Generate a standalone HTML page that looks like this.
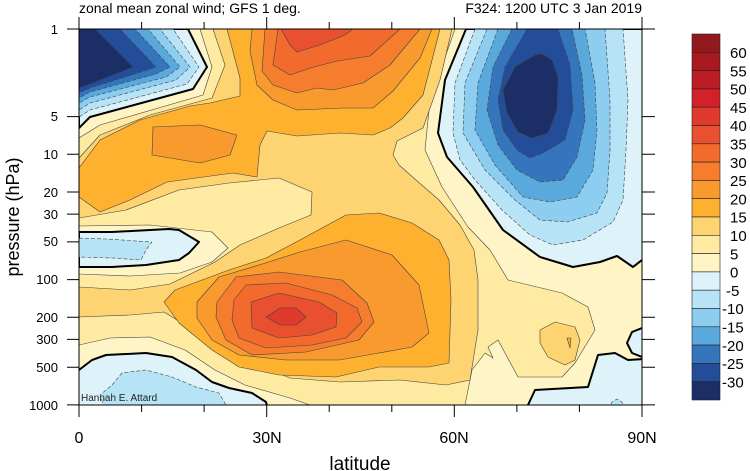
<!DOCTYPE html>
<html><head><meta charset="utf-8"><style>
html,body{margin:0;padding:0;background:#fff;}
svg{display:block;font-family:"Liberation Sans",sans-serif;}
</style></head><body>
<svg width="750" height="471" viewBox="0 0 750 471" xmlns="http://www.w3.org/2000/svg">
<defs><clipPath id="c"><rect x="79" y="29" width="563" height="376"/></clipPath></defs>
<g clip-path="url(#c)" stroke-linejoin="round">
<rect x="79" y="29" width="563" height="376" fill="#fef4c5"/>
<g stroke="#444" stroke-width="0.6">
<!-- 5+ -->
<path fill="#feeaa0" d="M200,29 L212,67 L203,95 L100,125 L79,138 L79,345 L110,338 L150,337 L185,350 L215,370 L245,385 L290,398 L310,405 L465,405 L472,370 L485,353 L493,358 L488,347 L498,340 L518,377 L562,377 L575,363 L595,330 L588,307 L562,293 L508,280 L490,250 L468,227 L442,187 L425,150 L430,100 L455,29 Z"/>
<!-- 10+ -->
<path fill="#fed472" d="M213,29 L225,65 L212,98 L150,115 L100,135 L79,158 L79,317 L130,315 L164,312 L190,328 L215,345 L250,362 L290,378 L340,382 L400,380 L446,385 L470,380 L478,330 L478,280 L474,250 L460,225 L439,200 L416,180 L399,165 L393,155 L397,141 L423,128 L440,80 L452,29 Z"/>
<!-- pale tongue -->
<path fill="#feeaa0" d="M79,218 L126,210 L179,190 L229,183 L279,178 L312,192 L311,215 L279,228 L240,245 L215,262 L170,284 L130,290 L79,287 Z"/>
<path fill="#fef4c5" d="M79,226 L150,225 L212,232 L228,248 L212,262 L180,273 L130,276 L79,274 Z"/>
<!-- upper 15 -->
<path fill="#fdb12f" d="M227,29 L240,78 L240,96 L210,103 L190,106 L140,120 L100,140 L79,168 L79,197 L100,212 L130,200 L167,182 L233,173 L257,177 L260,145 L267,131 L297,136 L340,133 L373,135 L390,128 L403,118 L423,95 L440,29 Z"/>
<path fill="#f99a2f" d="M153,127 L200,125 L237,135 L230,155 L200,163 L152,155 Z"/>
<path fill="#f99a2f" d="M252,29 L250,51 L257,85 L273,100 L297,110 L343,108 L373,108 L393,91 L420,58 L432,29 Z"/>
<path fill="#f67d2d" d="M265,29 L262,71 L273,85 L297,93 L317,88 L333,90 L363,83 L390,65 L420,29 Z"/>
<path fill="#f26a2c" d="M278,29 L273,65 L290,75 L310,68 L337,61 L370,56 L400,29 Z"/>
<path fill="#e8502f" d="M281,29 L290,45 L297,52 L320,45 L345,35 L353,29 Z"/>
<!-- lower jet -->
<path fill="#fdb12f" d="M164,302 L175,290 L229,270 L266,258 L300,240 L346,215 L379,213 L412,223 L439,240 L449,260 L451,300 L449,363 L429,367 L379,367 L336,377 L279,375 L239,367 L212,350 L179,323 Z"/>
<path fill="#f99a2f" d="M197,302 L219,277 L259,265 L300,252 L346,240 L392,255 L419,285 L429,333 L412,347 L379,353 L339,360 L286,360 L239,355 L212,340 L197,318 Z"/>
<path fill="#f67d2d" d="M217,302 L236,277 L279,272 L342,280 L367,303 L374,322 L359,340 L306,352 L252,355 L226,340 L216,317 Z"/>
<path fill="#f26a2c" d="M234,300 L246,285 L286,283 L332,295 L357,308 L362,322 L346,338 L312,345 L266,348 L239,338 L232,320 Z"/>
<path fill="#e8502f" d="M251,302 L279,293 L319,302 L337,313 L336,327 L312,335 L279,338 L252,328 Z"/>
<path fill="#e03a2e" d="M266,317 L280,308 L296,308 L306,317 L296,325 L280,325 Z"/>
<!-- bump -->
<path fill="#fed472" d="M540,330 L555,322 L575,327 L580,340 L575,360 L565,365 L548,357 L540,343 Z"/>
<path fill="#fdb12f" d="M567,338 L571,338 L570,348 Z"/>
</g>
<!-- negatives -->
<g stroke="#444" stroke-width="0.6" stroke-dasharray="4,2">
<path fill="#def2f9" stroke="#000" stroke-width="2" stroke-dasharray="none" d="M79,29 L188,29 L207,67 L193,89 L90,117 L79,128 Z"/>
<path fill="#b6e3f5" d="M79,29 L173,29 L199,67 L187,84 L90,110 L79,117 Z"/>
<path fill="#8dcdef" d="M79,29 L160,29 L190,67 L176,80 L90,103 L79,110 Z"/>
<path fill="#5aa9dc" d="M79,29 L148,29 L180,67 L166,77 L90,97 L79,103 Z"/>
<path fill="#3575bb" d="M79,29 L135,29 L170,67 L156,74 L90,92 L79,98 Z"/>
<path fill="#234d99" d="M79,29 L120,29 L156,67 L144,71 L90,88 L79,93 Z"/>
<path fill="#1b2e66" d="M79,29 L95,29 L133,67 L90,84 L79,88 Z"/>

<path fill="#def2f9" stroke="#000" stroke-width="2" stroke-dasharray="none" d="M466,29 L660,29 L660,255 L642,260 L633,267 L617,256 L600,262 L573,267 L540,257 L503,230 L473,187 L447,157 L438,133 L445,80 Z"/>
<path fill="#b6e3f5" d="M475,29 L455,83 L453,133 L460,160 L475,180 L502,210 L530,235 L553,245 L583,240 L613,222 L623,200 L626,150 L628,100 L623,29 Z"/>
<path fill="#8dcdef" d="M487,29 L465,83 L463,133 L485,170 L515,200 L540,220 L567,222 L597,213 L607,193 L610,150 L610,100 L605,29 Z"/>
<path fill="#5aa9dc" d="M498,29 L478,83 L475,130 L495,165 L523,197 L550,202 L577,197 L593,170 L597,130 L595,83 L585,29 Z"/>
<path fill="#3575bb" d="M512,29 L493,67 L487,110 L498,145 L517,170 L540,182 L563,180 L577,157 L585,120 L582,75 L572,29 Z"/>
<path fill="#234d99" d="M527,29 L505,67 L498,100 L503,130 L517,150 L530,158 L543,153 L565,140 L573,110 L570,65 L558,29 Z"/>
<path fill="#1b2e66" stroke-dasharray="none" d="M535,55 L515,67 L503,90 L507,113 L518,132 L532,138 L548,133 L557,110 L558,77 L552,60 L542,54 Z"/>

<path fill="#def2f9" stroke="#000" stroke-width="2" stroke-dasharray="none" d="M79,232 L112,232 L169,229 L179,230 L199,242 L189,253 L179,260 L146,265 L112,267 L79,267 Z"/>
<path fill="#b6e3f5" d="M79,238 L106,239 L152,242 L146,250 L141,260 L112,258 L79,257 Z"/>

<path fill="#def2f9" stroke="#000" stroke-width="2" stroke-dasharray="none" d="M70,410 L70,370 L79,370 L92,360 L106,355 L146,353 L172,357 L196,370 L212,382 L229,388 L252,393 L266,402 L268,410 Z"/>
<path fill="#b6e3f5" d="M112,385 L122,373 L146,370 L172,377 L196,387 L219,393 L226,405 L226,410 L105,410 L100,395 Z"/>

<path fill="#def2f9" stroke="#000" stroke-width="2" stroke-dasharray="none" d="M528,410 L528,405 L535,390 L588,387 L598,355 L615,353 L628,360 L660,358 L660,410 Z"/>
<path fill="#def2f9" stroke="#000" stroke-width="2" stroke-dasharray="none" d="M660,328 L642,328 L632,332 L627,343 L632,353 L642,357 L660,357 Z"/>
<path fill="#b6e3f5" d="M609,410 L612,402 L617,399 L622,402 L625,410 Z"/>
</g>
<text x="81" y="401" font-size="10" fill="#222">Hannah E. Attard</text>
</g>
<!-- frame -->
<rect x="79" y="29" width="563" height="376" fill="none" stroke="#000" stroke-width="1"/>
<g stroke="#000" stroke-width="1">
<path d="M79,405V417M266.7,405V417M454.3,405V417M642,405V417M79,29V17M266.7,29V17M454.3,29V17M642,29V17"/>
<path d="M141.6,405V412M204.1,405V412M329.2,405V412M391.8,405V412M516.9,405V412M579.4,405V412M141.6,29V22M204.1,29V22M329.2,29V22M391.8,29V22M516.9,29V22M579.4,29V22"/>
<path d="M67,29H79M67,116.6H79M67,154.3H79M67,192H79M67,214.1H79M67,241.9H79M67,279.6H79M67,317.3H79M67,339.4H79M67,367.2H79M67,404.9H79"/>
<path d="M642,29H655M642,116.6H655M642,154.3H655M642,192H655M642,214.1H655M642,241.9H655M642,279.6H655M642,317.3H655M642,339.4H655M642,367.2H655M642,404.9H655"/>
</g>
<g font-size="13" text-anchor="end" fill="#000">
<text x="58" y="34">1</text><text x="58" y="121">5</text><text x="58" y="159">10</text><text x="58" y="197">20</text><text x="58" y="219">30</text><text x="58" y="246">50</text><text x="58" y="284">100</text><text x="58" y="322">200</text><text x="58" y="344">300</text><text x="58" y="372">500</text><text x="58" y="410">1000</text>
</g>
<g font-size="16" text-anchor="middle" fill="#000">
<text x="79" y="443">0</text><text x="267" y="443">30N</text><text x="454" y="443">60N</text><text x="642" y="443">90N</text>
</g>
<text x="360" y="470" font-size="19" text-anchor="middle">latitude</text>
<text transform="translate(19,217) rotate(-90)" font-size="18" text-anchor="middle">pressure (hPa)</text>
<text x="79" y="13" font-size="14">zonal mean zonal wind; GFS 1 deg.</text>
<text x="642" y="13" font-size="14" text-anchor="end">F324: 1200 UTC 3 Jan 2019</text>
<!-- colorbar -->
<g stroke="#222" stroke-width="0.6">
<rect x="692" y="34" width="28" height="18.3" fill="#911a1d"/>
<rect x="692" y="52.3" width="28" height="18.3" fill="#a8181f"/>
<rect x="692" y="70.6" width="28" height="18.3" fill="#bc1c24"/>
<rect x="692" y="88.9" width="28" height="18.3" fill="#d22129"/>
<rect x="692" y="107.2" width="28" height="18.3" fill="#e03a2e"/>
<rect x="692" y="125.5" width="28" height="18.3" fill="#e8502f"/>
<rect x="692" y="143.8" width="28" height="18.3" fill="#f26a2c"/>
<rect x="692" y="162.1" width="28" height="18.3" fill="#f67d2d"/>
<rect x="692" y="180.4" width="28" height="18.3" fill="#f99a2f"/>
<rect x="692" y="198.7" width="28" height="18.3" fill="#fdb12f"/>
<rect x="692" y="217" width="28" height="18.3" fill="#fed472"/>
<rect x="692" y="235.3" width="28" height="18.3" fill="#feeaa0"/>
<rect x="692" y="253.6" width="28" height="18.3" fill="#fef4c5"/>
<rect x="692" y="271.9" width="28" height="18.3" fill="#def2f9"/>
<rect x="692" y="290.2" width="28" height="18.3" fill="#b6e3f5"/>
<rect x="692" y="308.5" width="28" height="18.3" fill="#8dcdef"/>
<rect x="692" y="326.8" width="28" height="18.3" fill="#5aa9dc"/>
<rect x="692" y="345.1" width="28" height="18.3" fill="#3575bb"/>
<rect x="692" y="363.4" width="28" height="18.3" fill="#234d99"/>
<rect x="692" y="381.7" width="28" height="18.3" fill="#1b2e66"/>
</g>
<g font-size="15" fill="#000">
<text x="730" y="58">60</text><text x="730" y="76.3">55</text><text x="730" y="94.6">50</text><text x="730" y="112.9">45</text><text x="730" y="131.2">40</text><text x="730" y="149.5">35</text><text x="730" y="167.8">30</text><text x="730" y="186.1">25</text><text x="730" y="204.4">20</text><text x="730" y="222.7">15</text><text x="730" y="241">10</text><text x="730" y="259.3">5</text><text x="730" y="277.6">0</text><text x="726" y="295.9">-5</text><text x="722" y="314.2">-10</text><text x="722" y="332.5">-15</text><text x="722" y="350.8">-20</text><text x="722" y="369.1">-25</text><text x="722" y="387.4">-30</text>
</g>
</svg>
</body></html>
